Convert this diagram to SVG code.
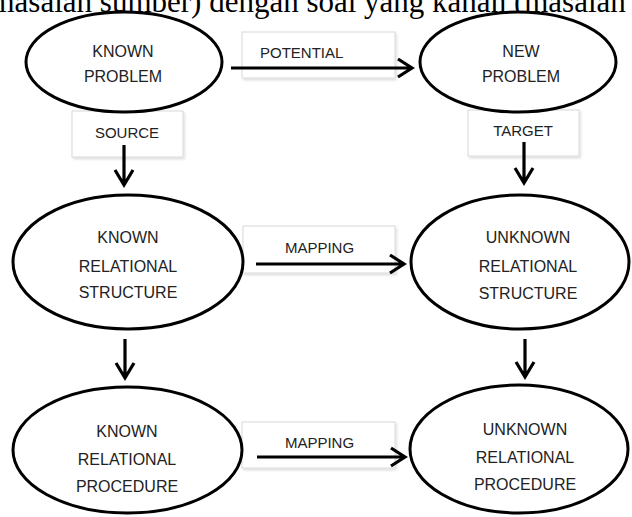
<svg xmlns="http://www.w3.org/2000/svg" width="632" height="517" viewBox="0 0 632 517">
<style>
.node{fill:#fff;stroke:#000;stroke-width:3}
.box{fill:#fff;stroke:#d8d8d8;stroke-width:1}
.t{font-family:"Liberation Sans",Arial,sans-serif;font-size:16px;fill:#222;text-anchor:middle}
.bt{font-family:"Liberation Sans",Arial,sans-serif;font-size:15px;fill:#222;text-anchor:middle}
.c{fill:none;stroke:#000;stroke-width:3.2;stroke-linecap:butt;stroke-linejoin:miter}
.top{font-family:"Liberation Serif","Times New Roman",serif;font-size:31px;fill:#000}
</style>
<defs>
<filter id="sh" x="-10%" y="-10%" width="130%" height="140%">
<feDropShadow dx="1.5" dy="2" stdDeviation="1.2" flood-color="#000" flood-opacity="0.12"/>
</filter>
</defs>
<rect width="632" height="517" fill="#fff"/>
<text class="top" x="-9.5" y="12">masalah sumber) dengan soal yang kanan (masalah</text>

<g id="label-potential"><rect class="box" x="242" y="32" width="153" height="46" filter="url(#sh)"/><text class="bt" x="260" y="58" style="text-anchor:start">POTENTIAL</text></g>
<g id="label-source"><rect class="box" x="72" y="111" width="111" height="46" filter="url(#sh)"/><text class="bt" x="127" y="138">SOURCE</text></g>
<g id="label-target"><rect class="box" x="468" y="110" width="111" height="46" filter="url(#sh)"/><text class="bt" x="523" y="136">TARGET</text></g>
<g id="label-mapping1"><rect class="box" x="243" y="226" width="152" height="47" filter="url(#sh)"/><text class="bt" x="319.5" y="253">MAPPING</text></g>
<g id="label-mapping2"><rect class="box" x="242" y="422" width="153" height="46" filter="url(#sh)"/><text class="bt" x="319.5" y="448">MAPPING</text></g>

<g id="known-problem"><ellipse class="node" cx="124" cy="62" rx="98" ry="50"/><text class="t" x="123" y="57">KNOWN</text><text class="t" x="123" y="82">PROBLEM</text></g>
<g id="new-problem"><ellipse class="node" cx="518" cy="62" rx="98" ry="50"/><text class="t" x="521" y="57">NEW</text><text class="t" x="521" y="82">PROBLEM</text></g>
<g id="known-structure"><ellipse class="node" cx="128" cy="262" rx="115" ry="67"/><text class="t" x="128" y="243">KNOWN</text><text class="t" x="128" y="272">RELATIONAL</text><text class="t" x="128" y="298">STRUCTURE</text></g>
<g id="unknown-structure"><ellipse class="node" cx="520" cy="262" rx="109" ry="67"/><text class="t" x="528" y="243">UNKNOWN</text><text class="t" x="528" y="272">RELATIONAL</text><text class="t" x="528" y="299">STRUCTURE</text></g>
<g id="known-procedure"><ellipse class="node" cx="127.5" cy="450" rx="114.5" ry="63"/><text class="t" x="127" y="437">KNOWN</text><text class="t" x="127" y="465">RELATIONAL</text><text class="t" x="127" y="492">PROCEDURE</text></g>
<g id="unknown-procedure"><ellipse class="node" cx="519" cy="449" rx="109" ry="64"/><text class="t" x="525" y="435">UNKNOWN</text><text class="t" x="525" y="463">RELATIONAL</text><text class="t" x="525" y="490">PROCEDURE</text></g>

<g id="connectors">
<path class="c" d="M231 68H411M398 59L412 68L398 77"/>
<path class="c" d="M124 145V184M115 170L124 185L133 170"/>
<path class="c" d="M524 142V182M515 168L524 183L533 168"/>
<path class="c" d="M256 264H403M390 255L404 264L390 273"/>
<path class="c" d="M125 339V377M116 363L125 378L134 363"/>
<path class="c" d="M525 339V376M516 362L525 377L534 362"/>
<path class="c" d="M257 457H404M391 448L405 457L391 466"/>
</g>
</svg>
